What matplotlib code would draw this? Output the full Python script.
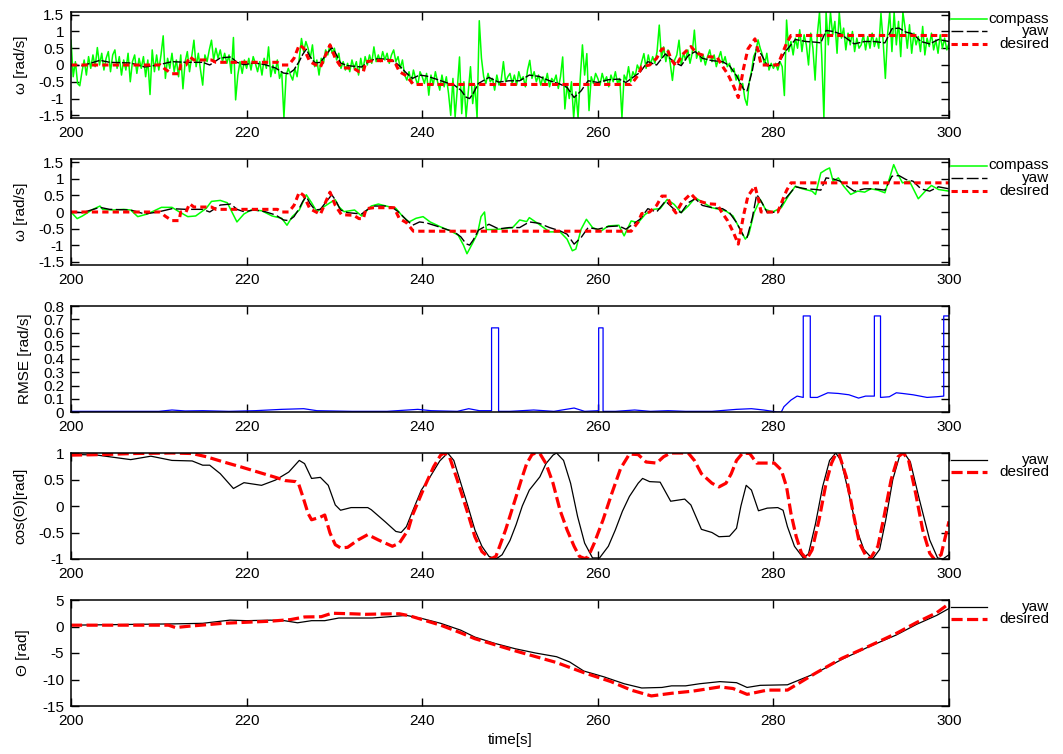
import numpy as np
import matplotlib
matplotlib.use("Agg")
import matplotlib.pyplot as plt
from matplotlib.lines import Line2D
from matplotlib.ticker import FuncFormatter, MultipleLocator

plt.rcParams['font.family'] = ['Liberation Sans', 'DejaVu Sans']
plt.rcParams['axes.unicode_minus'] = False
plt.rcParams['lines.scale_dashes'] = False

# ---------------------------------------------------------------- data
# raw compass angular rate, sampled every 0.25 s from 200 s to 300 s
compass_raw = [
    0.74, -0.35, 0.1, -0.55, -0.62, -0.2, 0.15, -0.3, 0.25, -0.1, 0.3, -0.05, 0.52, 0.0, 0.35, -0.15, 0.2, 0.4, -0.2, 0.3,
    0.45, -0.1, 0.25, -0.3, 0.15, -0.15, 0.35, -0.5, 0.1, 0.3, -0.25, 0.2, -0.1, 0.25, -0.35, 0.15, -0.88, 0.45, -0.2, 0.3,
    -0.15, 0.3, 0.87, -0.4, 0.2, -0.1, 0.35, -0.2, 0.15, -0.35, 0.3, -0.71, 0.1, 0.4, -0.2, 0.25, 0.74, -0.05, 0.35, -0.15,
    -0.6, 0.3, 0.1, 0.45, 0.74, 0.15, 0.5, 0.2, 0.45, 0.1, 0.35, 0.05, 0.3, -0.25, 0.82, -1.04, -0.3, 0.1, -0.25, 0.15,
    -0.1, 0.2, -0.15, 0.25, 0.05, -0.2, 0.1, -0.3, 0.2, -0.1, 0.54, -0.35, 0.0, -0.25, 0.15, -0.4, -0.2, -1.57, -0.3, -0.1,
    -0.3, -0.45, -0.1, -0.35, 0.2, 0.79, 0.4, 0.7, 0.5, 0.2, 0.6, -0.05, 0.15, -0.3, 0.2, 0.05, 0.45, 0.3, 0.62, 0.35,
    0.5, 0.15, 0.35, -0.1, 0.1, -0.15, 0.05, -0.2, 0.15, -0.1, 0.1, -0.3, 0.2, -0.15, 0.25, 0.0, 0.3, 0.05, 0.54, 0.1,
    0.3, 0.1, 0.4, 0.15, 0.35, 0.05, 0.3, 0.45, 0.1, 0.25, -0.1, 0.15, -0.3, -0.45, -0.2, -0.55, -0.15, -0.4, -0.6, -0.2,
    -0.35, -0.55, -0.25, -0.9, -0.3, -0.6, -0.2, -0.5, -0.75, -0.3, -0.65, -0.35, -0.85, -1.5, -0.4, -1.55, -0.7, 0.24, -1.45, -0.5,
    -1.55, -0.8, -0.05, -1.15, -0.6, -1.57, 1.32, 0.2, -0.35, -0.55, -0.25, -0.5, -0.4, -0.75, -0.3, -0.6, -0.45, 0.1, -0.5, -0.35,
    -0.25, -0.55, -0.3, -0.6, -0.2, -0.45, -0.35, -0.65, -0.15, 0.14, -0.4, -0.2, -0.5, -0.3, -0.6, -0.35, -0.55, -0.25, -0.65, -0.4,
    -0.5, -0.3, -0.7, -0.35, 0.24, -1.31, -0.6, -1.0, -0.5, -1.57, -0.8, -1.57, -0.4, 0.6, -0.3, 0.34, -1.36, -0.35, -0.55, -0.25,
    -0.4, -0.6, -0.25, -0.5, -0.35, -0.65, -0.3, -0.5, -0.2, -0.55, -0.4, -1.57, -0.3, -0.45, -0.05, -0.5, -0.2, -0.35, 0.0, -0.15,
    0.1, 0.34, -0.1, 0.3, 0.0, 0.25, 0.05, 0.4, 1.19, 0.2, 0.54, 0.1, 0.45, 0.05, -0.46, 0.15, 0.3, 0.74, 0.0, 0.35,
    0.15, 0.45, 0.05, 0.35, 1.04, 0.2, 0.4, 0.1, 0.3, 0.0, 0.25, 0.45, 0.1, 0.3, -0.05, 0.2, 0.4, 0.05, 0.25, -0.05,
    0.05, -0.2, -0.1, -0.45, -0.3, -0.7, -0.55, -1.0, -1.2, -0.5, -0.2, 0.25, 0.4, 0.75, 0.5, 0.3, 0.0, 0.35, -0.15, 0.05,
    -0.1, 0.05, -0.15, 0.1, -0.05, -0.91, 1.34, 0.4, 0.7, 0.3, 0.8, 0.5, 1.05, 0.4, 0.9, 0.6, 0.0, 0.95, 0.5, -0.45,
    0.9, 1.57, 0.3, -1.57, 1.57, 0.6, 1.57, 0.9, 1.3, 0.35, 1.57, 0.8, 1.1, 0.45, 0.95, 0.6, 1.0, 0.4, 0.8, 0.5,
    0.6, 0.9, 0.45, 0.85, 0.5, 0.95, 0.55, 0.8, 0.5, 1.54, 0.7, -0.4, 0.9, 1.57, 0.4, 1.57, 0.6, 1.3, 0.25, 1.57,
    1.1, 0.5, 1.2, 0.35, 0.95, 0.6, 0.85, 0.4, 1.15, 0.3, 0.8, 0.55, 0.95, 0.45, 0.75, 0.35, 0.9, 0.5, 0.8, 0.45,
    0.65,
]
t_compass_raw = np.linspace(200.0, 300.0, len(compass_raw))

# filtered compass angular rate
t_compass = [200.0, 200.7, 201.3, 202.5, 203.3, 203.6, 204.8, 206.0, 206.8, 207.6, 208.7, 210.3, 211.5, 212.3,
             213.3, 214.2, 215.4, 216.0, 217.0, 217.8, 218.5, 218.9, 219.7, 220.5, 221.7, 222.9, 224.0, 224.6,
             225.2, 226.0, 226.8, 227.4, 228.0, 228.7, 229.5, 230.1, 230.5, 231.1, 232.3, 233.1, 234.2, 235.0,
             236.2, 237.0, 237.8, 238.5, 239.3, 240.1, 240.9, 242.1, 243.3, 244.1, 244.7, 245.1, 245.7, 246.3,
             246.7, 247.1, 247.3, 248.1, 249.1, 250.3, 251.1, 251.9, 252.2, 253.3, 254.5, 255.7, 256.5, 257.1,
             257.5, 258.1, 258.7, 259.4, 260.4, 261.2, 262.4, 263.0, 263.8, 264.6, 265.4, 266.3, 267.1, 267.9,
             268.7, 269.5, 270.3, 271.1, 271.9, 273.0, 274.6, 275.4, 276.2, 276.8, 277.2, 277.8, 278.5, 279.1,
             279.9, 280.9, 281.7, 282.5, 283.3, 284.4, 284.8, 285.4, 286.0, 286.4, 286.8, 287.4, 288.0, 288.8,
             289.6, 290.4, 291.1, 291.9, 292.7, 293.3, 293.7, 294.1, 294.7, 295.5, 296.5, 297.3, 298.0, 298.8,
             300.0]
compass = [0.0, -0.2, -0.12, 0.08, 0.18, 0.08, 0.06, 0.08, 0.06, -0.14, -0.06, 0.14, 0.14, 0.01,
           -0.14, -0.12, 0.11, 0.32, 0.35, 0.28, -0.09, -0.3, -0.06, 0.06, 0.04, -0.12, -0.19, -0.4,
           -0.14, 0.06, 0.52, 0.28, 0.01, 0.14, 0.28, 0.37, 0.16, 0.01, 0.06, -0.12, 0.18, 0.24,
           0.16, 0.11, -0.14, -0.3, -0.19, -0.14, -0.3, -0.45, -0.58, -0.7, -1.0, -1.26, -0.96, -0.65,
           -0.14, 0.0, -0.53, -0.53, -0.51, -0.47, -0.24, -0.29, -0.17, -0.37, -0.6, -0.6, -0.82, -1.17,
           -1.12, -0.52, -0.22, -0.47, -0.57, -0.42, -0.4, -0.72, -0.27, -0.32, -0.07, 0.08, 0.1, 0.38,
           0.23, -0.02, 0.18, 0.43, 0.3, 0.13, 0.03, -0.12, -0.52, -0.82, -0.67, -0.02, 0.38, 0.08,
           0.0, 0.13, 0.48, 0.78, 0.7, 0.63, 0.53, 1.18, 1.28, 1.33, 0.93, 1.03, 0.78, 0.53,
           0.63, 0.6, 0.7, 0.66, 0.58, 1.08, 1.43, 1.18, 0.88, 0.93, 0.4, 0.63, 0.8, 0.68,
           0.63]

# yaw angular rate
t_yaw = [200.0, 201.3, 203.3, 204.4, 206.8, 208.4, 209.9, 211.5, 213.1, 215.0, 215.8, 217.0, 218.2, 218.9,
         219.7, 220.9, 222.1, 223.3, 224.2, 224.8, 225.4, 226.0, 226.4, 226.8, 227.2, 227.8, 228.4, 229.1,
         229.7, 230.1, 230.7, 231.5, 232.3, 233.1, 233.8, 234.6, 235.8, 236.6, 237.4, 238.2, 238.9, 239.7,
         240.5, 241.7, 242.8, 243.6, 244.4, 245.0, 245.4, 245.8, 246.4, 247.6, 248.7, 249.9, 251.1, 252.2,
         253.3, 254.5, 255.7, 256.5, 257.3, 258.1, 258.9, 260.0, 261.2, 262.4, 263.2, 264.0, 264.8, 265.7,
         266.7, 267.7, 268.7, 269.5, 270.3, 271.1, 271.9, 273.0, 274.2, 275.0, 275.8, 276.6, 277.0, 277.6,
         278.1, 278.7, 279.3, 280.5, 281.3, 282.5, 283.7, 284.8, 285.4, 286.0, 286.8, 287.6, 288.4, 289.2,
         290.4, 291.5, 292.7, 293.5, 294.3, 295.1, 295.9, 296.8, 297.8, 298.8, 300.0]
yaw_rate = [0.0, -0.02, 0.14, 0.08, 0.06, -0.06, 0.0, 0.1, 0.08, 0.08, 0.0, 0.21, 0.24, 0.08,
            0.01, 0.06, 0.01, -0.09, -0.24, -0.26, -0.14, 0.11, 0.32, 0.47, 0.26, 0.06, 0.08, 0.32,
            0.52, 0.37, 0.06, -0.02, -0.04, -0.06, 0.08, 0.18, 0.18, 0.14, -0.02, -0.24, -0.4, -0.3,
            -0.33, -0.43, -0.53, -0.59, -0.75, -0.96, -1.0, -0.85, -0.55, -0.37, -0.51, -0.47, -0.47, -0.3,
            -0.34, -0.47, -0.57, -0.67, -0.97, -0.77, -0.47, -0.52, -0.44, -0.42, -0.52, -0.37, -0.22, 0.1,
            0.0, 0.33, 0.08, -0.02, 0.28, 0.4, 0.2, 0.13, 0.1, -0.02, -0.32, -0.72, -0.77, -0.17,
            0.53, 0.28, -0.02, 0.0, 0.38, 0.76, 0.7, 0.68, 0.66, 1.03, 1.0, 0.93, 0.78, 0.63,
            0.7, 0.7, 0.66, 1.08, 1.1, 0.98, 0.93, 0.7, 0.63, 0.76, 0.7]

# desired angular rate
t_des = [200.0, 210.2, 210.7, 211.5, 212.3, 212.5, 213.1, 213.5, 214.0, 216.0, 216.5, 223.5, 224.0, 224.8,
         225.4, 226.0, 226.5, 227.2, 228.4, 229.0, 229.5, 230.1, 230.8, 232.2, 232.8, 233.3, 233.6, 234.5,
         236.8, 237.4, 238.2, 239.0, 263.8, 264.6, 265.0, 265.9, 266.7, 267.3, 267.9, 268.4, 268.9, 269.6,
         270.6, 271.3, 272.5, 273.6, 274.1, 274.8, 275.5, 276.0, 276.6, 277.1, 277.9, 278.3, 278.6, 280.5,
         281.0, 281.5, 282.0, 300.0]
des_rate = [0.0, 0.0, -0.12, -0.26, -0.26, 0.0, 0.0, 0.25, 0.15, 0.15, 0.08, 0.08, 0.0, 0.0,
            0.2, 0.6, 0.5, 0.1, -0.07, 0.3, 0.6, 0.2, -0.08, -0.1, -0.2, -0.2, 0.1, 0.13,
            0.13, -0.2, -0.32, -0.58, -0.58, -0.3, -0.05, 0.0, 0.2, 0.48, 0.48, 0.15, -0.03, 0.3,
            0.55, 0.35, 0.25, 0.23, 0.0, -0.27, -0.65, -0.97, -0.1, 0.48, 0.78, 0.38, 0.0, 0.0,
            0.33, 0.65, 0.88, 0.88]

# RMSE of the heading rate
t_rmse = [200.0, 205.0, 210.0, 211.5, 213.0, 215.0, 218.0, 221.0, 224.0, 226.5, 228.0, 232.0, 236.0,
          239.5, 241.0, 244.0, 245.3, 246.5, 247.9, 247.9, 248.7, 248.7, 250.0, 252.7, 255.0, 257.3,
          258.5, 260.1, 260.1, 260.6, 260.6, 262.0, 264.2, 266.0, 268.0, 270.0, 273.0, 275.8, 277.5,
          278.9, 280.4, 280.9, 281.2, 282.0, 282.7, 283.4, 283.4, 284.2, 284.2, 285.0, 286.2, 287.4,
          288.6, 289.7, 290.5, 291.5, 291.5, 292.2, 292.2, 293.2, 294.0, 294.7, 295.9, 296.7, 297.5,
          298.6, 299.4, 299.4, 300.0]
rmse = [0.005, 0.005, 0.005, 0.015, 0.008, 0.01, 0.005, 0.01, 0.02, 0.025, 0.01, 0.005, 0.005,
        0.02, 0.01, 0.005, 0.025, 0.01, 0.01, 0.635, 0.635, 0.005, 0.005, 0.015, 0.005, 0.03,
        0.005, 0.01, 0.635, 0.635, 0.005, 0.005, 0.015, 0.005, 0.01, 0.005, 0.005, 0.02, 0.025,
        0.015, 0.0, 0.0, 0.04, 0.09, 0.12, 0.11, 0.725, 0.725, 0.11, 0.11, 0.145, 0.14,
        0.13, 0.105, 0.12, 0.12, 0.725, 0.725, 0.11, 0.115, 0.145, 0.14, 0.13, 0.12, 0.11,
        0.115, 0.12, 0.725, 0.725]

# cosine of heading
t_cos_yaw = [200.0, 203.0, 206.8, 209.1, 211.5, 213.8, 215.0, 215.8, 217.0, 218.5, 219.7, 221.7, 223.3,
             224.8, 226.0, 226.6, 227.4, 228.4, 229.3, 230.1, 230.7, 231.9, 233.8, 234.2, 235.8, 237.0,
             237.6, 238.2, 238.9, 239.9, 240.9, 242.0, 242.9, 243.6, 244.4, 245.2, 246.0, 246.8, 247.6,
             248.4, 249.1, 250.0, 250.7, 251.4, 252.2, 253.4, 254.1, 254.9, 255.3, 256.1, 256.9, 257.7,
             258.5, 259.4, 260.2, 261.2, 262.0, 262.8, 263.6, 264.6, 265.1, 265.9, 267.1, 268.3, 269.9,
             270.6, 271.8, 273.0, 273.8, 275.0, 275.8, 276.3, 276.9, 277.5, 278.3, 279.3, 280.5, 281.1,
             281.6, 282.4, 283.4, 284.0, 284.8, 285.6, 286.4, 287.1, 287.7, 288.5, 289.5, 290.3, 291.3,
             292.1, 292.8, 293.6, 294.4, 294.9, 295.6, 296.6, 297.8, 298.7, 299.3, 300.0]
cos_yaw = [0.975, 0.96, 0.875, 0.94, 0.86, 0.85, 0.77, 0.77, 0.61, 0.33, 0.44, 0.39, 0.49,
           0.64, 0.86, 0.8, 0.52, 0.54, 0.39, 0.02, -0.08, -0.03, -0.03, -0.07, -0.3, -0.48,
           -0.5, -0.39, -0.1, 0.3, 0.55, 0.85, 1.0, 0.86, 0.43, 0.0, -0.45, -0.76, -0.95,
           -1.0, -0.92, -0.65, -0.35, 0.0, 0.3, 0.55, 0.8, 0.96, 1.0, 0.86, 0.43, -0.2,
           -0.7, -0.98, -0.98, -0.76, -0.45, -0.1, 0.18, 0.43, 0.52, 0.46, 0.45, 0.09, 0.13,
           0.02, -0.44, -0.5, -0.58, -0.57, -0.42, 0.0, 0.39, 0.3, -0.09, -0.04, -0.03, -0.08,
           -0.39, -0.76, -0.98, -0.9, -0.33, 0.36, 0.86, 1.0, 0.86, 0.3, -0.45, -0.82, -1.0,
           -0.82, -0.26, 0.5, 0.96, 1.0, 0.83, 0.14, -0.64, -0.98, -1.0, -0.92]

t_cos_des = [200.0, 203.6, 207.0, 211.5, 213.8, 215.4, 217.4, 219.3, 221.3, 223.3, 224.4, 225.6, 225.9,
             226.4, 227.0, 227.4, 228.4, 228.9, 229.5, 230.1, 230.7, 231.5, 232.7, 233.8, 235.0, 236.6,
             237.4, 238.4, 238.9, 240.1, 241.3, 242.1, 242.5, 243.1, 244.0, 245.2, 246.0, 246.8, 247.8,
             248.4, 249.5, 250.7, 251.3, 251.9, 252.5, 252.9, 253.4, 254.1, 254.9, 255.7, 256.5, 257.3,
             257.9, 258.5, 258.9, 259.6, 260.6, 261.6, 262.6, 263.6, 264.6, 265.5, 266.7, 267.5, 268.3,
             270.3, 271.0, 271.8, 273.0, 273.8, 274.6, 275.2, 275.8, 276.5, 277.3, 278.1, 280.1, 280.9,
             281.5, 282.0, 282.6, 283.2, 283.8, 284.4, 285.2, 286.0, 286.6, 287.1, 287.5, 288.3, 289.1,
             289.8, 290.6, 291.0, 291.9, 292.6, 293.4, 294.2, 294.8, 295.4, 296.2, 297.0, 297.8, 298.3,
             299.1, 299.5, 300.0]
cos_des = [0.96, 0.97, 0.99, 1.0, 0.99, 0.93, 0.83, 0.74, 0.64, 0.54, 0.48, 0.46, 0.43,
           0.18, -0.14, -0.26, -0.21, -0.17, -0.51, -0.73, -0.79, -0.78, -0.64, -0.54, -0.64, -0.76,
           -0.7, -0.45, -0.17, 0.3, 0.74, 0.96, 1.0, 0.93, 0.49, -0.14, -0.58, -0.86, -1.0,
           -0.95, -0.45, 0.18, 0.5, 0.8, 0.97, 1.0, 0.99, 0.8, 0.43, -0.08, -0.45, -0.76,
           -0.95, -0.99, -0.96, -0.7, -0.26, 0.24, 0.71, 0.98, 0.97, 0.83, 0.81, 0.93, 1.0,
           1.0, 0.86, 0.61, 0.43, 0.36, 0.43, 0.61, 0.86, 1.0, 0.99, 0.81, 0.81, 0.68,
           0.36, -0.14, -0.58, -0.89, -1.0, -0.83, -0.26, 0.43, 0.8, 0.98, 0.97, 0.55, -0.14,
           -0.7, -0.96, -1.0, -0.76, -0.2, 0.49, 0.93, 1.0, 0.86, 0.24, -0.45, -0.89, -1.0,
           -0.92, -0.64, -0.29]

# heading angle
t_th_yaw = [200.0, 207.2, 211.9, 215.0, 218.1, 220.0, 222.7, 224.3, 225.8, 227.4, 228.9, 230.5, 232.0,
            234.3, 236.7, 238.2, 240.0, 242.1, 244.4, 246.0, 248.3, 250.6, 252.9, 255.3, 256.8, 258.4,
            260.7, 263.0, 265.0, 267.3, 268.4, 270.0, 271.6, 273.9, 275.8, 277.0, 278.5, 281.6, 284.7,
            287.8, 290.9, 294.0, 296.3, 298.6, 300.0]
th_yaw = [0.25, 0.4, 0.5, 0.6, 1.2, 1.1, 1.2, 1.1, 0.7, 1.1, 1.1, 1.6, 1.6,
          1.6, 1.9, 2.1, 1.5, 0.6, -0.7, -2.0, -3.2, -4.2, -5.0, -5.7, -6.7, -8.4,
          -9.5, -10.8, -11.6, -11.5, -11.2, -11.2, -10.8, -10.4, -10.6, -11.5, -11.1, -11.0, -8.9,
          -6.2, -3.8, -1.6, 0.4, 2.1, 3.4]

t_th_des = [200.0, 211.1, 211.9, 213.4, 217.3, 222.7, 225.0, 226.6, 228.5, 229.7, 232.0, 233.5, 235.0,
            237.4, 238.6, 240.0, 242.1, 244.4, 246.0, 250.6, 255.3, 258.4, 261.5, 263.8, 266.1, 268.4,
            270.8, 273.9, 275.4, 277.0, 279.3, 281.6, 284.7, 287.8, 290.9, 294.0, 296.3, 298.6, 300.0]
th_des = [0.25, 0.25, -0.2, 0.05, 0.6, 1.0, 1.3, 1.8, 1.85, 2.5, 2.4, 2.3, 2.35,
          2.4, 2.0, 1.3, 0.25, -1.2, -2.3, -4.6, -6.8, -8.7, -10.4, -12.0, -13.1, -12.6,
          -12.2, -11.4, -11.7, -12.8, -12.0, -12.0, -8.9, -6.0, -3.7, -1.3, 0.75, 2.6, 4.3]

# ---------------------------------------------------------------- styles
W, H = 1063, 754
FS = 11
GREEN = '#00ff00'
RED = '#ff0000'
BLUE = '#0000ff'

compass_kw = dict(color=GREEN, lw=1.1)
yaw_dash_kw = dict(color='black', lw=1.0, dashes=(8.5, 2.5))
yaw_dense_kw = dict(color='black', lw=1.0, dashes=(6, 1.5))
des_short_kw = dict(color=RED, lw=2.2, dashes=(4.5, 3.0))
yaw_line_kw = dict(color='black', lw=0.9)
des_long_kw = dict(color=RED, lw=2.3, dashes=(8.0, 3.2))
rmse_kw = dict(color=BLUE, lw=0.9)

fmt = FuncFormatter(lambda v, p: f"{round(v, 3):g}")

fig = plt.figure(figsize=(W / 100, H / 100), dpi=100)

left = 71 / W
width = (949 - 71) / W
height = 106 / H
panel_bottoms_px = [118, 265, 412, 559, 706]
axes = [fig.add_axes([left, 1 - b / H, width, height]) for b in panel_bottoms_px]


def style_axes(ax, ylim, ystep, ylabel, label_x):
    ax.set_xlim(200, 300)
    ax.set_ylim(*ylim)
    ax.xaxis.set_major_locator(MultipleLocator(20))
    ax.yaxis.set_major_locator(MultipleLocator(ystep))
    ax.yaxis.set_major_formatter(fmt)
    ax.xaxis.set_major_formatter(fmt)
    ax.tick_params(direction='in', top=True, right=True, length=5.5, width=1.0,
                   labelsize=FS)
    ax.tick_params(axis='x', pad=5.5)
    ax.tick_params(axis='y', pad=5)
    for s in ax.spines.values():
        s.set_linewidth(1.1)
    ax.set_ylabel(ylabel, fontsize=FS, va='center')
    ax.yaxis.set_label_coords(label_x, 0.5)


def key(ax, entries):
    """gnuplot-style key to the right of the axes: sample line, right-aligned text."""
    top_px = (1 - ax.get_position().y1) * H
    for i, (label, kw) in enumerate(entries):
        y = 1 - (top_px + 6.5 + 12.7 * i) / H
        fig.add_artist(Line2D([951 / W, 987 / W], [y, y], transform=fig.transFigure, **kw))
        fig.text(1049 / W, y, label, ha='right', va='center', fontsize=FS)


# panel 1: raw compass rate
ax = axes[0]
ax.plot(t_compass_raw, compass_raw, **compass_kw)
ax.plot(t_yaw, yaw_rate, **yaw_dense_kw)
ax.plot(t_des, des_rate, **des_short_kw)
style_axes(ax, (-1.58, 1.58), 0.5, 'ω [rad/s]', -0.057)
key(ax, [('compass', compass_kw), ('yaw', yaw_dash_kw), ('desired', des_short_kw)])

# panel 2: filtered compass rate
ax = axes[1]
ax.plot(t_compass, compass, **compass_kw)
ax.plot(t_yaw, yaw_rate, **yaw_dash_kw)
ax.plot(t_des, des_rate, **des_short_kw)
style_axes(ax, (-1.6, 1.6), 0.5, 'ω [rad/s]', -0.057)
key(ax, [('compass', compass_kw), ('yaw', yaw_dash_kw), ('desired', des_short_kw)])

# panel 3: RMSE
ax = axes[2]
ax.plot(t_rmse, rmse, **rmse_kw)
style_axes(ax, (0, 0.8), 0.1, 'RMSE [rad/s]', -0.052)

# panel 4: cosine of heading
ax = axes[3]
ax.plot(t_cos_yaw, cos_yaw, **yaw_line_kw)
ax.plot(t_cos_des, cos_des, **des_long_kw)
style_axes(ax, (-1, 1), 0.5, 'cos(Θ)[rad]', -0.0577)
key(ax, [('yaw', yaw_line_kw), ('desired', des_long_kw)])

# panel 5: heading
ax = axes[4]
ax.plot(t_th_yaw, th_yaw, **yaw_line_kw)
ax.plot(t_th_des, th_des, **des_long_kw)
style_axes(ax, (-15, 5), 5, 'Θ [rad]', -0.0547)
key(ax, [('yaw', yaw_line_kw), ('desired', des_long_kw)])
ax.set_xlabel('time[s]', fontsize=FS, va='center')
ax.xaxis.set_label_coords(0.5, -0.32)

fig.savefig('out.png', dpi=100)
